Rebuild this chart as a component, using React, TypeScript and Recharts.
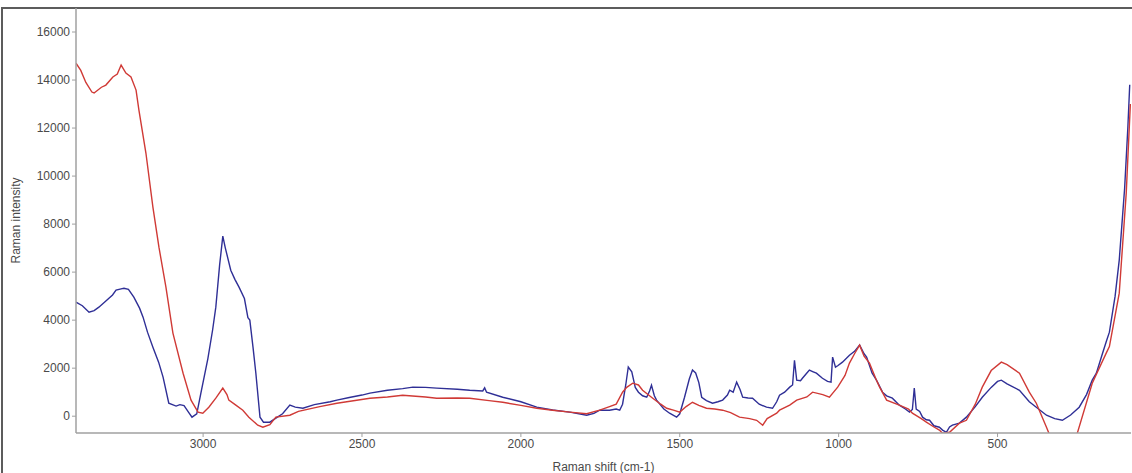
import { LineChart, Line, XAxis, YAxis, Label } from "recharts";

// Raman shift (cm-1) / intensity
const blueShift = [
  3400, 3380, 3359, 3343, 3328, 3306, 3285, 3274, 3258, 3249, 3235, 3218, 3200, 3189, 3175, 3158, 3140, 3126,
  3108, 3085, 3073, 3060, 3045, 3035, 3020, 3007, 2985, 2970, 2960, 2948, 2938, 2930, 2913, 2900, 2887, 2870,
  2859, 2853, 2843, 2834, 2821, 2810, 2790, 2771, 2750, 2727, 2710, 2686, 2650, 2600, 2579, 2540, 2500, 2475,
  2420, 2372, 2340, 2300, 2265, 2200, 2161, 2120, 2114, 2108, 2057, 2000, 1950, 1900, 1846, 1793, 1770, 1752,
  1721, 1700, 1689, 1680, 1670, 1662, 1651, 1640, 1630, 1617, 1604, 1595, 1589, 1580, 1573, 1550, 1532, 1510,
  1500, 1485, 1470, 1460, 1450, 1440, 1431, 1416, 1397, 1380, 1365, 1350, 1343, 1332, 1321, 1310, 1302, 1285,
  1271, 1250, 1227, 1208, 1195, 1186, 1170, 1154, 1145, 1139, 1132, 1120, 1114, 1100, 1092, 1080, 1070, 1051,
  1035, 1024, 1019, 1010, 1003, 988, 966, 950, 934, 920, 912, 895, 881, 862, 849, 831, 809, 790, 777, 768, 762,
  756, 745, 736, 724, 714, 700, 683, 673, 661, 651, 642, 620, 598, 570, 548, 520, 500, 488, 470, 431, 400, 378,
  346, 320, 296, 270, 243, 220, 202, 189, 170, 158, 148, 130, 117, 100, 90, 84,
];
const blueIntensity = [
  4750, 4600, 4330, 4400, 4540, 4800, 5050, 5250, 5300, 5330, 5280, 4960, 4500, 4125, 3500, 2875, 2250, 1625,
  540, 420, 480, 440, 150, -40, 100, 960, 2400, 3600, 4540, 6300, 7500, 7000, 6080, 5700, 5375, 4900,
  4100, 4000, 2875, 1790, -40, -250, -250, -80, 100, 460, 380, 330, 480, 600, 670, 780, 880, 960,
  1080, 1150, 1210, 1200, 1170, 1120, 1080, 1050, 1180, 1000, 790, 600, 375, 260, 170, 40, 120, 250,
  250, 300, 250, 500, 1300, 2050, 1850, 1200, 1000, 850, 790, 1050, 1290, 850, 670, 300, 125, -40,
  100, 790, 1550, 1920, 1800, 1400, 790, 650, 540, 600, 670, 880, 1080, 1000, 1420, 1100, 790, 760,
  750, 500, 375, 330, 600, 875, 1000, 1210, 1300, 2330, 1500, 1480, 1580, 1800, 1920, 1850, 1790, 1580,
  1450, 1420, 2460, 2040, 2100, 2250, 2540, 2700, 2960, 2600, 2460, 1800, 1500, 1000, 850, 750, 460, 300, 170, 280, 1170,
  300, 200, -40, -150, -170, -400, -460, -580, -670, -450, -375, -290, -40, 400, 790, 1200, 1450, 1500, 1350, 1080, 600, 375,
  40, -100, -170, 50, 375, 900, 1500, 1790, 2600, 3100, 3500, 5000, 6500, 9500, 12000, 13800,
];

const redShift = [
  3400, 3385, 3369, 3350, 3343, 3320, 3306, 3284, 3270, 3258, 3243, 3227, 3211, 3202, 3180, 3158, 3139, 3117,
  3095, 3063, 3038, 3016, 3001, 2982, 2960, 2938, 2925, 2919, 2897, 2875, 2856, 2828, 2812, 2790, 2771, 2727,
  2700, 2633, 2579, 2475, 2420, 2372, 2300, 2265, 2200, 2161, 2100, 2057, 2000, 1950, 1900, 1846, 1793, 1752,
  1721, 1700, 1680, 1667, 1648, 1630, 1617, 1585, 1560, 1541, 1520, 1500, 1480, 1460, 1440, 1416, 1390, 1365,
  1340, 1312, 1280, 1258, 1239, 1225, 1195, 1186, 1154, 1132, 1100, 1082, 1050, 1029, 1003, 980, 966, 950,
  934, 920, 903, 881, 871, 849, 809, 780, 768, 740, 724, 700, 683, 673, 651, 620, 598, 570, 548, 520, 488,
  470, 431, 400, 378, 346, 320, 290, 265, 249, 202, 158, 148, 117, 95, 82,
];
const redIntensity = [
  14700, 14400, 13900, 13500, 13460, 13700, 13790, 14125, 14250, 14625, 14290, 14125, 13580, 12750, 10960, 8710, 7040, 5375,
  3460, 1790, 670, 170, 125, 375, 750, 1170, 900, 670, 460, 250, -40, -375, -460, -350, -40, 40,
  200, 400, 540, 750, 800, 875, 800, 750, 760, 750, 650, 580, 450, 330, 250, 170, 100, 250,
  400, 500, 1000, 1200, 1375, 1300, 1080, 750, 500, 330, 250, 170, 400, 580, 450, 330, 300, 250,
  150, -40, -100, -170, -375, -100, 125, 250, 460, 670, 800, 1000, 900, 790, 1210, 1700, 2210, 2600,
  2960, 2500, 2210, 1500, 1210, 670, 460, 300, 125, -100, -250, -450, -580, -710, -670, -290, -170, 500, 1210, 1900, 2250,
  2150, 1790, 1000, 540, -460, -1300, -1600, -1200, -710, 1375, 2625, 2900, 5125, 9290, 13000,
];

const shiftTicks = [3000, 2500, 2000, 1500, 1000, 500];
const intensityTicks = [0, 2000, 4000, 6000, 8000, 10000, 12000, 14000, 16000];

const shiftDomain = [80, 3400];
const intensityDomain = [-700, 17000];

const blueData = blueShift.map((shift, i) => ({ shift, intensity: blueIntensity[i] }));
const redData = redShift.map((shift, i) => ({ shift, intensity: redIntensity[i] }));

const minorShiftTicks = Array.from({ length: 33 }, (_, i) => 3400 - i * 100);
const minorIntensityTicks = Array.from({ length: 35 }, (_, i) => -500 + i * 500);

const font = "'Liberation Sans', Arial, sans-serif";
const axisColor = "#a0a0a0";
const textColor = "#4a4a4a";

const emptyTick = () => <g />;

export default function App() {
  return (
    <div style={{ position: "absolute", left: 0, top: 0, width: 1132, height: 473, background: "#fff", fontFamily: font }}>
      <div
        style={{
          position: "absolute",
          left: 1,
          top: 7,
          width: 1131,
          height: 466,
          borderTop: "2px solid #5c5c5c",
          borderLeft: "2px solid #5c5c5c",
          boxSizing: "border-box",
        }}
      />
      <LineChart width={1132} height={473} margin={{ top: 8, right: 1, bottom: 0, left: 0 }} style={{ position: "absolute", left: 0, top: 0 }}>
        <XAxis
          xAxisId="minor"
          dataKey="shift"
          type="number"
          domain={shiftDomain}
          reversed
          allowDataOverflow
          ticks={minorShiftTicks}
          tick={emptyTick}
          tickSize={3}
          tickLine={{ stroke: axisColor }}
          axisLine={false}
          height={0}
        />
        <XAxis
          dataKey="shift"
          type="number"
          domain={shiftDomain}
          reversed
          allowDataOverflow
          ticks={shiftTicks}
          tickSize={4}
          tickLine={{ stroke: axisColor }}
          axisLine={{ stroke: axisColor, strokeWidth: 1.5 }}
          tick={{ fill: textColor, fontSize: 12, fontFamily: font }}
          height={40}
        >
          <Label value="Raman shift (cm-1)" position="insideBottom" offset={2} fill={textColor} fontSize={12} fontFamily={font} />
        </XAxis>
        <YAxis
          yAxisId="minor"
          type="number"
          domain={intensityDomain}
          allowDataOverflow
          ticks={minorIntensityTicks}
          tick={emptyTick}
          tickSize={3}
          tickLine={{ stroke: axisColor }}
          axisLine={false}
          width={0}
        />
        <YAxis
          type="number"
          domain={intensityDomain}
          allowDataOverflow
          ticks={intensityTicks}
          tickSize={4}
          tickLine={{ stroke: axisColor }}
          axisLine={{ stroke: axisColor, strokeWidth: 1.5 }}
          tick={{ fill: textColor, fontSize: 12, fontFamily: font }}
          width={76}
        >
          <Label
            value="Raman intensity"
            angle={-90}
            position="insideLeft"
            offset={16}
            style={{ textAnchor: "middle" }}
            fill={textColor}
            fontSize={12}
            fontFamily={font}
          />
        </YAxis>
        <Line
          data={blueData}
          dataKey="intensity"
          type="linear"
          stroke="#2f2f96"
          strokeWidth={1.4}
          dot={false}
          isAnimationActive={false}
        />
        <Line
          data={redData}
          dataKey="intensity"
          type="linear"
          stroke="#d03a36"
          strokeWidth={1.4}
          dot={false}
          isAnimationActive={false}
        />
      </LineChart>
    </div>
  );
}
